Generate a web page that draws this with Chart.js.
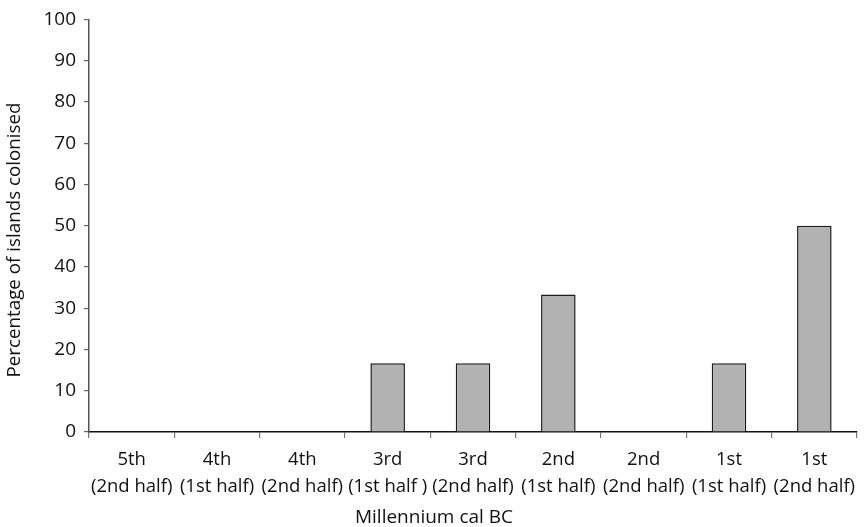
<!DOCTYPE html>
<html>
<head>
<meta charset="utf-8">
<script src="https://cdn.jsdelivr.net/npm/chart.js@4.4.1/dist/chart.umd.min.js"></script>
<style>
html,body{margin:0;padding:0;background:#fff;}
#wrap{width:868px;height:527px;position:relative;}
</style>
</head>
<body>
<div id="wrap"><canvas id="c" width="868" height="527"></canvas></div>
<script>
const categories = [
  ["5th","(2nd half)"],
  ["4th","(1st half)"],
  ["4th","(2nd half)"],
  ["3rd","(1st half )"],
  ["3rd","(2nd half)"],
  ["2nd","(1st half)"],
  ["2nd","(2nd half)"],
  ["1st","(1st half)"],
  ["1st","(2nd half)"]
];
const percentColonised = [0, 0, 0, 16.67, 16.67, 33.33, 0, 16.67, 50];
const yTicks = [0,10,20,30,40,50,60,70,80,90,100];
const xTitle = "Millennium cal BC";
const yTitle = "Percentage of islands colonised";

const FONT = "'Open Sans', 'Noto Sans', sans-serif";
Chart.defaults.font.family = FONT;
Chart.defaults.color = "#111";

// Axis titles: the x title is centred on the whole figure, the y title sits
// slightly below the plot centre, as in the reference.
const axisTitles = {
  id: 'axisTitles',
  afterDraw(chart) {
    const ctx = chart.ctx;
    ctx.save();
    ctx.fillStyle = '#111';
    ctx.textAlign = 'center';
    ctx.textBaseline = 'middle';
    ctx.font = "19px " + FONT;
    ctx.fillText(xTitle, chart.width / 2, 518);
    ctx.translate(15, 240);
    ctx.rotate(-Math.PI / 2);
    ctx.font = "18.8px " + FONT;
    ctx.fillText(yTitle, 0, 0);
    ctx.restore();
  }
};

new Chart(document.getElementById('c'), {
  type: 'bar',
  data: {
    labels: categories,
    datasets: [{
      data: percentColonised,
      backgroundColor: '#b2b2b2',
      borderColor: '#1a1a1a',
      borderWidth: 1.5,
      borderSkipped: 'bottom',
      categoryPercentage: 1,
      barPercentage: 0.405
    }]
  },
  plugins: [axisTitles],
  options: {
    responsive: false,
    animation: false,
    devicePixelRatio: 1,
    layout: { padding: { top: 19, right: 11, left: 0, bottom: 0 } },
    plugins: { legend: { display: false }, tooltip: { enabled: false } },
    scales: {
      x: {
        offset: true,
        grid: { offset: true, drawOnChartArea: false, drawTicks: true, tickLength: 6, color: '#777', lineWidth: 1.2 },
        border: { display: true, color: '#111', width: 1.5 },
        ticks: { font: { size: 18.5, family: FONT, lineHeight: 1.46 }, color: '#111', padding: 8.5, maxRotation: 0, autoSkip: false },
        afterFit: (s) => { s.height = 95; }
      },
      y: {
        min: 0, max: 100,
        afterBuildTicks: (s) => { s.ticks = yTicks.map(v => ({ value: v })); },
        grid: { drawOnChartArea: false, drawTicks: true, tickLength: 5, color: '#666', lineWidth: 1.2 },
        border: { display: true, color: '#555', width: 1.5 },
        ticks: { font: { size: 19, family: FONT }, color: '#111', padding: 8 },
        afterFit: (s) => { s.width = 89; }
      }
    }
  }
});
</script>
</body>
</html>
